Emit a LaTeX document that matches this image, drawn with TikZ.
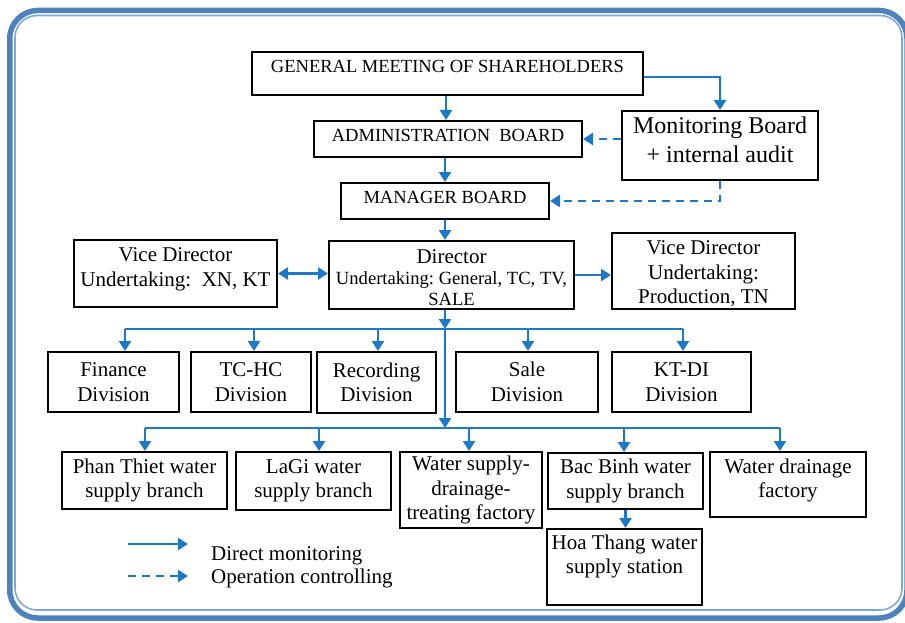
\documentclass[tikz,border=0pt]{standalone}
\usepackage{fontspec}
\setmainfont{Liberation Serif}
\usepackage{tikz}
\usetikzlibrary{arrows.meta}
\definecolor{flowblue}{HTML}{1E78C8}
\definecolor{frameblue}{HTML}{4F81BD}
\definecolor{framelight}{HTML}{7FA6D6}
\newcommand\txtnorm{\fontsize{21}{24.5}\selectfont}
\newcommand\txtcaps{\fontsize{18.5}{22}\selectfont}
\newcommand\txtmon{\fontsize{24}{29}\selectfont}
\newcommand\txtsmall{\fontsize{18.6}{21}\selectfont}
\tikzset{
    >={Triangle[length=10pt,width=12pt]},
    box/.style={draw, line width=2pt, inner sep=0pt, align=center, font=\txtnorm},
    capsbox/.style={box, font=\txtcaps, text height=12.3pt},
    flow/.style={draw=flowblue, line width=2.5pt, ->},
    ctrl/.style={flow, dash pattern=on 8pt off 6pt},
    bus/.style={draw=flowblue, line width=2.5pt},
}
\frenchspacing
\begin{document}
\begin{tikzpicture}[x=1pt,y=-1pt]
    \useasboundingbox (0,0) rectangle (905,623);
    \clip (0,0) rectangle (905,623);
    \draw[frameblue, line width=5.5pt, rounded corners=28pt] (9.75,10.5) rectangle (907,618);
    \draw[framelight, line width=1.6pt, rounded corners=22pt] (15,15.5) rectangle (902,610);

    \node[capsbox, minimum width=391pt, minimum height=43pt, text depth=15.2pt] (gen) at (447.5,73.5) {GENERAL MEETING OF SHAREHOLDERS};
    \node[capsbox, minimum width=268pt, minimum height=36pt, text depth=8.2pt] (admin) at (448,139) {ADMINISTRATION~ BOARD};
    \node[capsbox, minimum width=208pt, minimum height=36pt, text depth=8.2pt] (mgr) at (445,201) {MANAGER BOARD};
    \node[box, font=\txtmon, minimum width=196pt, minimum height=69pt, text depth=12pt] (mon) at (720,145.5) {Monitoring Board\\+ internal audit};
    \node[box, minimum width=203pt, minimum height=67pt, text depth=12.6pt] (vdl) at (175.5,273.5) {Vice Director\\Undertaking:~ XN, KT};
    \node[box, font=\txtsmall, minimum width=245pt, minimum height=68pt, text height=62pt] (dir) at (451.5,275) {{\txtnorm Director}\\Undertaking: General, TC, TV,\\SALE};
    \node[box, minimum width=183pt, minimum height=76pt, text height=69pt] (vdr) at (703.5,271) {Vice Director\\Undertaking:\\Production, TN};

    \node[box, minimum width=131pt, minimum height=60pt] (fin) at (113.5,382) {Finance\\Division};
    \node[box, minimum width=120pt, minimum height=60pt] (tchc) at (251,382) {TC-HC\\Division};
    \node[box, minimum width=119pt, minimum height=61pt] (rec) at (376.5,382.5) {Recording\\Division};
    \node[box, minimum width=142pt, minimum height=60pt] (sale) at (527,382) {Sale\\Division};
    \node[box, minimum width=139pt, minimum height=60pt] (ktdi) at (681.5,382) {KT-DI\\Division};

    \node[box, minimum width=165pt, minimum height=57pt] (pt) at (144.5,480.5) {Phan Thiet water\\supply branch};
    \node[box, minimum width=155pt, minimum height=58pt] (lagi) at (313.5,481) {LaGi water\\supply branch};
    \node[box, minimum width=142pt, minimum height=76pt] (wsd) at (471,490) {Water supply-\\drainage-\\treating factory};
    \node[box, minimum width=155pt, minimum height=56pt] (bb) at (625.5,481) {Bac Binh water\\supply branch};
    \node[box, minimum width=156pt, minimum height=65pt, text depth=12.8pt] (wdf) at (788,484.5) {Water drainage\\factory};
    \node[box, minimum width=155pt, minimum height=76pt, text depth=26pt] (ht) at (624.5,567) {Hoa Thang water\\supply station};

    \draw[flow] (gen.south -| 446,0) -- (446,0 |- admin.north);
    \draw[flow] (admin.south -| 445,0) -- (445,0 |- mgr.north);
    \draw[flow] (mgr.south) -- (mgr.south |- dir.north);
    \draw[flow] (gen.east |- 0,77) -| (mon.north);
    \draw[ctrl] (mon.west |- admin.east) -- (admin.east);
    \draw[ctrl] (mon.south) |- (mgr.east);
    \draw[flow, <->] (vdl.east) -- (vdl.east -| dir.west);
    \draw[flow] (dir.east) -- (dir.east -| vdr.west);

    \coordinate (busa) at (445,329);
    \coordinate (busb) at (445,428);
    \draw[flow] (dir.south -| busa) -- (busa);
    \draw[flow] (busa) -- (busb);
    \draw[bus] (busa -| 125,0) -- (busa -| 683,0);
    \foreach \x/\n in {125/fin,254/tchc,378/rec,528/sale,683/ktdi}
        \draw[flow] (busa -| \x,0) -- (\x,0 |- \n.north);
    \draw[bus] (busb -| 145,0) -- (busb -| 780,0);
    \foreach \x/\n in {145/pt,319/lagi,469/wsd,624/bb,780/wdf}
        \draw[flow] (busb -| \x,0) -- (\x,0 |- \n.north);
    \draw[flow] (bb.south) -- (bb.south |- ht.north);

    \coordinate (lga) at (128,544);
    \coordinate (lgb) at (188,544);
    \coordinate (lgc) at (128,576);
    \coordinate (lgd) at (188,576);
    \draw[flow] (lga) -- (lgb);
    \draw[ctrl] (lgc) -- (lgd);
    \node[anchor=base west, inner sep=0pt, font=\txtnorm] (lgdirect) at (211,560) {Direct monitoring};
    \node[anchor=base west, inner sep=0pt, font=\txtnorm] (lgctrl) at (211,583) {Operation controlling};
\end{tikzpicture}
\end{document}
